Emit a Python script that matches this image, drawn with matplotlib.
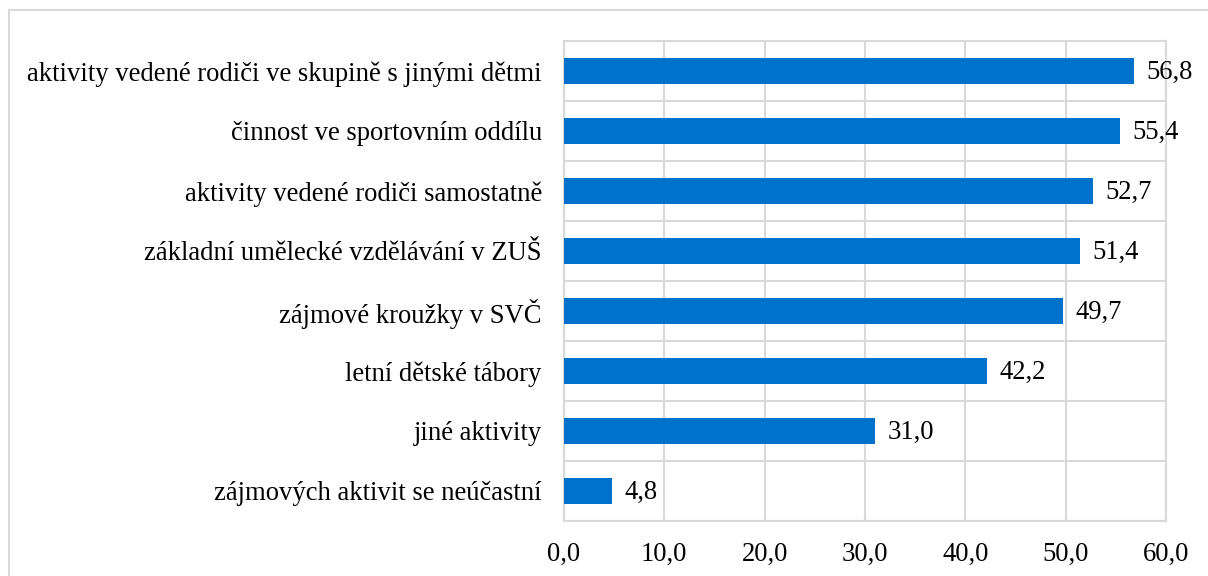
import numpy as np
import matplotlib.pyplot as plt
from matplotlib.patches import Rectangle

categories = ['aktivity vedené rodiči ve skupině s jinými dětmi',
              'činnost ve sportovním oddílu',
              'aktivity vedené rodiči samostatně',
              'základní umělecké vzdělávání v ZUŠ',
              'zájmové kroužky v SVČ',
              'letní dětské tábory',
              'jiné aktivity',
              'zájmových aktivit se neúčastní']
values = [56.8, 55.4, 52.7, 51.4, 49.7, 42.2, 31.0, 4.8]
xticks = [0, 10, 20, 30, 40, 50, 60]

plt.rcParams['font.family'] = ['Liberation Serif', 'DejaVu Serif']
grid_col = '#D9D9D9'
fs = 19.2

fig = plt.figure(figsize=(12.08, 5.76), dpi=100)
ax = fig.add_axes([564/1208, 1-521/576, 602/1208, 480/576])

y = np.arange(len(categories))
ax.barh(y, values, height=0.43, color='#0072CC', zorder=3)
for yi, v in zip(y, values):
    ax.annotate(f'{v:.1f}'.replace('.', ','), (v, yi), xytext=(9, -1),
                textcoords='offset points', va='center', ha='left', fontsize=fs)

ax.set_xlim(0, 60)
ax.set_ylim(len(categories)-0.5, -0.5)
ax.set_xticks(xticks)
ax.set_xticklabels([f'{t:.1f}'.replace('.', ',') for t in xticks], fontsize=fs)
ax.set_yticks(y)
ax.set_yticklabels(categories, fontsize=fs)
ax.set_yticks(np.arange(len(categories)+1) - 0.5, minor=True)
ax.tick_params(axis='both', which='both', length=0)
ax.tick_params(axis='x', pad=15)
ax.tick_params(axis='y', pad=16)
ax.grid(axis='x', color=grid_col, linewidth=1.5, zorder=0)
ax.grid(axis='y', which='minor', color=grid_col, linewidth=1.5, zorder=0)
for s in ax.spines.values():
    s.set_color(grid_col)
    s.set_linewidth(1.5)

fig.patches.append(Rectangle((9/1208, -0.1), 1.2, 1-10/576+0.1, transform=fig.transFigure,
                             fill=False, edgecolor=grid_col, linewidth=1.5))

fig.savefig('out.png', dpi=100)
